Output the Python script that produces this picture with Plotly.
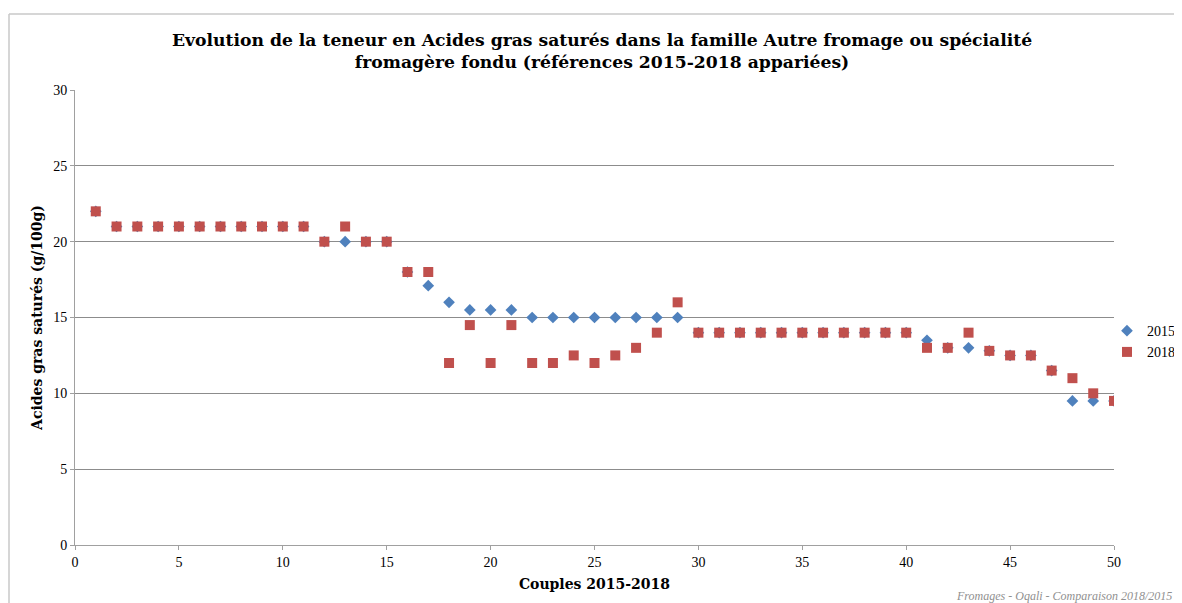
import plotly.graph_objects as go

couples = list(range(1, 51))

ags_2015 = [22, 21, 21, 21, 21, 21, 21, 21, 21, 21,
            21, 20, 20, 20, 20, 18, 17.1, 16, 15.5, 15.5,
            15.5, 15, 15, 15, 15, 15, 15, 15, 15, 14,
            14, 14, 14, 14, 14, 14, 14, 14, 14, 14,
            13.5, 13, 13, 12.8, 12.5, 12.5, 11.5, 9.5, 9.5, 9.5]

ags_2018 = [22, 21, 21, 21, 21, 21, 21, 21, 21, 21,
            21, 20, 21, 20, 20, 18, 18, 12, 14.5, 12,
            14.5, 12, 12, 12.5, 12, 12.5, 13, 14, 16, 14,
            14, 14, 14, 14, 14, 14, 14, 14, 14, 14,
            13, 13, 14, 12.8, 12.5, 12.5, 11.5, 11, 10, 9.5]

serif = "Liberation Serif"
wide_serif = "DejaVu Serif"

fig = go.Figure()
fig.add_trace(go.Scatter(x=couples, y=ags_2015, mode="markers", name="2015",
                         marker=dict(symbol="diamond", size=9, color="#4F81BD")))
fig.add_trace(go.Scatter(x=couples, y=ags_2018, mode="markers", name="2018",
                         marker=dict(symbol="square", size=10, color="#C0504D")))

# the page body adds 8px, so the figure is 1174x595 and everything is shifted by 8px
fx0 = (1 - 67) / 1039
fy1 = 1 + (82 - 6) / 455
fig.add_shape(type="line", xref="paper", yref="paper", x0=fx0, x1=fx0, y0=-0.2, y1=fy1,
              line=dict(color="#C8C8C8", width=1.5))
fig.add_shape(type="line", xref="paper", yref="paper", x0=fx0, x1=1.2, y0=fy1, y1=fy1,
              line=dict(color="#C8C8C8", width=1.5))

fig.add_annotation(text="Fromages - Oqali - Comparaison 2018/2015", xref="paper", yref="paper",
                   x=1.058, y=-0.111, xanchor="right", yanchor="middle", showarrow=False,
                   font=dict(family=serif, size=12, color="#909090", style="italic"))

fig.update_layout(
    width=1174, height=595,
    margin=dict(l=67, r=68, t=82, b=58, autoexpand=False),
    paper_bgcolor="white", plot_bgcolor="white",
    title=dict(text="<b>Evolution de la teneur en Acides gras saturés dans la famille Autre fromage ou spécialité<br>fromagère fondu (références 2015-2018 appariées)</b>",
               x=0.506, xanchor="center", y=0.936, yanchor="middle",
               font=dict(family=wide_serif, size=17.2, color="black")),
    legend=dict(x=1.0635, y=0.447, xanchor="right", yanchor="middle",
                font=dict(family=serif, size=14, color="black"),
                itemwidth=30, tracegroupgap=4, bgcolor="rgba(0,0,0,0)"),
    font=dict(family=serif, size=14, color="black"),
)

fig.update_xaxes(range=[0, 50], tick0=0, dtick=5, showgrid=False, zeroline=False,
                 showline=True, linecolor="#A0A0A0", linewidth=1, automargin=False,
                 ticks="outside", ticklen=4, tickcolor="#A0A0A0",
                 tickfont=dict(family=serif, size=14, color="black"),
                 title=dict(text="<b>Couples 2015-2018</b>",
                            font=dict(family=wide_serif, size=14, color="black"), standoff=10))
fig.update_yaxes(range=[0, 30], tick0=0, dtick=5, showgrid=True, gridcolor="#8C8C8C", gridwidth=1,
                 zeroline=False, showline=True, linecolor="#A0A0A0", linewidth=1, automargin=False,
                 ticks="outside", ticklen=4, tickcolor="#A0A0A0",
                 tickfont=dict(family=serif, size=14, color="black"),
                 title=dict(text="<b>Acides gras saturés (g/100g)</b>",
                            font=dict(family=wide_serif, size=14, color="black"), standoff=7))

fig.write_html("out.html")
